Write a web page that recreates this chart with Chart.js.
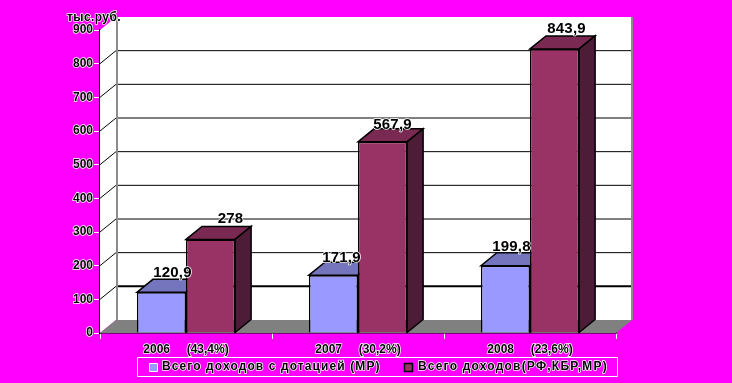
<!DOCTYPE html>
<html>
<head>
<meta charset="utf-8">
<style>
html, body { margin: 0; padding: 0; background: #ff00ff; }
#wrap { width: 732px; height: 383px; }
</style>
<script src="https://cdn.jsdelivr.net/npm/chart.js@4"></script>
</head>
<body>
<div id="wrap"><canvas id="chart" width="732" height="383"></canvas></div>
<script>
const categories = ['2006     (43,4%)', '2007     (30,2%)', '2008     (23,6%)'];
const subsidyIncome = [120.9, 171.9, 199.8];
const totalIncome = [278, 567.9, 843.9];
const subsidyLabel = 'Всего доходов с дотацией (МР)';
const totalLabel = 'Всего доходов(РФ,КБР,МР)';
const yTicks = [0, 100, 200, 300, 400, 500, 600, 700, 800, 900];
const unitLabel = 'тыс.руб.';

// depth of the fake 3D box
const dx = 16;
const dy = 13;

const faceColors = [
    { top: '#7575bd', side: '#4d4d80' },
    { top: '#7a2a52', side: '#4d1c36' }
];

// small nudges so the value labels sit where they do in the picture
const labelNudge = [
    [[11, -19], [8, -17], [6, -19]],
    [[20, -21], [10, -17], [12, -20]]
];

function poly(ctx, pts, fill, stroke) {
    ctx.beginPath();
    pts.forEach((p, i) => i ? ctx.lineTo(p[0], p[1]) : ctx.moveTo(p[0], p[1]));
    ctx.closePath();
    if (fill) {
        ctx.fillStyle = fill;
        ctx.fill();
    }
    if (stroke) {
        ctx.strokeStyle = stroke;
        ctx.lineWidth = 1.5;
        ctx.stroke();
    }
}

function haloText(ctx, text, x, y, font, spacing) {
    ctx.font = font;
    ctx.letterSpacing = spacing || '0px';
    ctx.lineJoin = 'round';
    ctx.strokeStyle = '#ffffff';
    ctx.lineWidth = 1.5;
    ctx.strokeText(text, x, y);
    ctx.fillStyle = '#000000';
    ctx.fillText(text, x, y);
    ctx.letterSpacing = '0px';
}

const box3d = {
    id: 'box3d',
    beforeDatasetsDraw(chart) {
        const { ctx, chartArea: a, scales } = chart;
        ctx.save();
        // walls
        poly(ctx, [[a.left, a.top], [a.left + dx, a.top - dy], [a.left + dx, a.bottom - dy], [a.left, a.bottom]], '#ffffff');
        poly(ctx, [[a.left + dx, a.top - dy], [a.right + dx, a.top - dy], [a.right + dx, a.bottom - dy], [a.left + dx, a.bottom - dy]], '#ffffff');
        // floor
        poly(ctx, [[a.left, a.bottom], [a.left + dx, a.bottom - dy], [a.right + dx, a.bottom - dy], [a.right, a.bottom]], '#808080');
        // grid lines along side wall and back wall
        scales.y.ticks.forEach(t => {
            if (t.value === 0 || t.value === 900) return;
            const y = scales.y.getPixelForValue(t.value);
            ctx.strokeStyle = '#000000';
            ctx.lineWidth = 1;
            ctx.beginPath();
            ctx.moveTo(a.left, y);
            ctx.lineTo(a.left + dx, y - dy);
            ctx.stroke();
            ctx.lineWidth = t.value === 100 ? 2 : 1;
            ctx.beginPath();
            ctx.moveTo(a.left + dx, y - dy);
            ctx.lineTo(a.right + dx, y - dy);
            ctx.stroke();
        });
        // wall edges
        ctx.strokeStyle = '#8c8c8c';
        ctx.lineWidth = 2;
        ctx.beginPath();
        ctx.moveTo(a.left + dx + 1, a.top - dy);
        ctx.lineTo(a.left + dx + 1, a.bottom - dy);
        ctx.moveTo(a.right + dx, a.top - dy);
        ctx.lineTo(a.right + dx, a.bottom - dy);
        ctx.stroke();
        // top and side faces of the bars, fronts come from the library
        chart.data.datasets.forEach((ds, i) => {
            chart.getDatasetMeta(i).data.forEach(bar => {
                const l = bar.x - bar.width / 2;
                const r = bar.x + bar.width / 2;
                poly(ctx, [[l, bar.y], [l + dx, bar.y - dy], [r + dx, bar.y - dy], [r, bar.y]], faceColors[i].top, '#000000');
                poly(ctx, [[r, bar.y], [r + dx, bar.y - dy], [r + dx, bar.base - dy], [r, bar.base]], faceColors[i].side, '#000000');
            });
        });
        ctx.restore();
    },
    afterDatasetsDraw(chart) {
        const { ctx } = chart;
        ctx.save();
        ctx.textAlign = 'center';
        ctx.textBaseline = 'middle';
        chart.data.datasets.forEach((ds, i) => {
            chart.getDatasetMeta(i).data.forEach((bar, j) => {
                const text = String(ds.data[j]).replace('.', ',');
                const n = labelNudge[i][j];
                haloText(ctx, text, bar.x + n[0], bar.y + n[1], 'bold 15px "Liberation Sans"', '0.2px');
            });
        });
        haloText(ctx, unitLabel, 94, 18, 'bold 12px "Liberation Sans"', '0.4px');

        // legend box
        const bx = 137, by = 357, bw = 480, bh = 19;
        ctx.strokeStyle = '#ffffff';
        ctx.lineWidth = 1;
        ctx.strokeRect(bx + 0.5, by + 0.5, bw, bh);
        ctx.textAlign = 'left';
        const items = [[149, 162], [404, 418]];
        chart.data.datasets.forEach((ds, i) => {
            const cy = by + 10;
            ctx.fillStyle = ds.backgroundColor;
            ctx.fillRect(items[i][0], cy - 4, 8, 8);
            ctx.strokeStyle = i ? '#000000' : '#ffffff';
            ctx.strokeRect(items[i][0] + 0.5, cy - 4 + 0.5, 8, 8);
            haloText(ctx, ds.label, items[i][1], cy, 'bold 12px "Liberation Sans"', i ? '1.2px' : '1.1px');
        });
        ctx.restore();
    }
};

new Chart(document.getElementById('chart').getContext('2d'), {
    type: 'bar',
    data: {
        labels: categories,
        datasets: [
            { label: subsidyLabel, data: subsidyIncome, backgroundColor: '#9999ff', borderColor: '#000000', borderWidth: 1.5 },
            { label: totalLabel, data: totalIncome, backgroundColor: '#993366', borderColor: '#000000', borderWidth: 1.5 }
        ]
    },
    options: {
        responsive: false,
        animation: false,
        layout: { padding: { left: 0, right: 116, top: 30, bottom: 0 } },
        plugins: { legend: { display: false }, tooltip: { enabled: false } },
        datasets: { bar: { categoryPercentage: 0.571, barPercentage: 1 } },
        scales: {
            x: {
                afterFit(s) { s.height = 50; },
                grid: { offset: true, drawOnChartArea: false, tickLength: 6, tickColor: '#ffffff' },
                border: { color: '#000000', width: 1.5 },
                ticks: {
                    color: '#000000',
                    maxRotation: 0,
                    padding: 3,
                    font: { family: 'Liberation Sans', size: 12, weight: 'bold' },
                    textStrokeColor: '#ffffff',
                    textStrokeWidth: 1.5
                }
            },
            y: {
                min: 0,
                max: 900,
                afterFit(s) { s.width = 100; },
                afterBuildTicks(s) { s.ticks = yTicks.map(v => ({ value: v })); },
                grid: { drawOnChartArea: false, tickLength: 6, tickColor: '#ffffff' },
                border: { color: '#000000', width: 1.5 },
                ticks: {
                    color: '#000000',
                    padding: 1,
                    font: { family: 'Liberation Sans', size: 12, weight: 'bold' },
                    textStrokeColor: '#ffffff',
                    textStrokeWidth: 1.5
                }
            }
        }
    },
    plugins: [box3d]
});
</script>
</body>
</html>
